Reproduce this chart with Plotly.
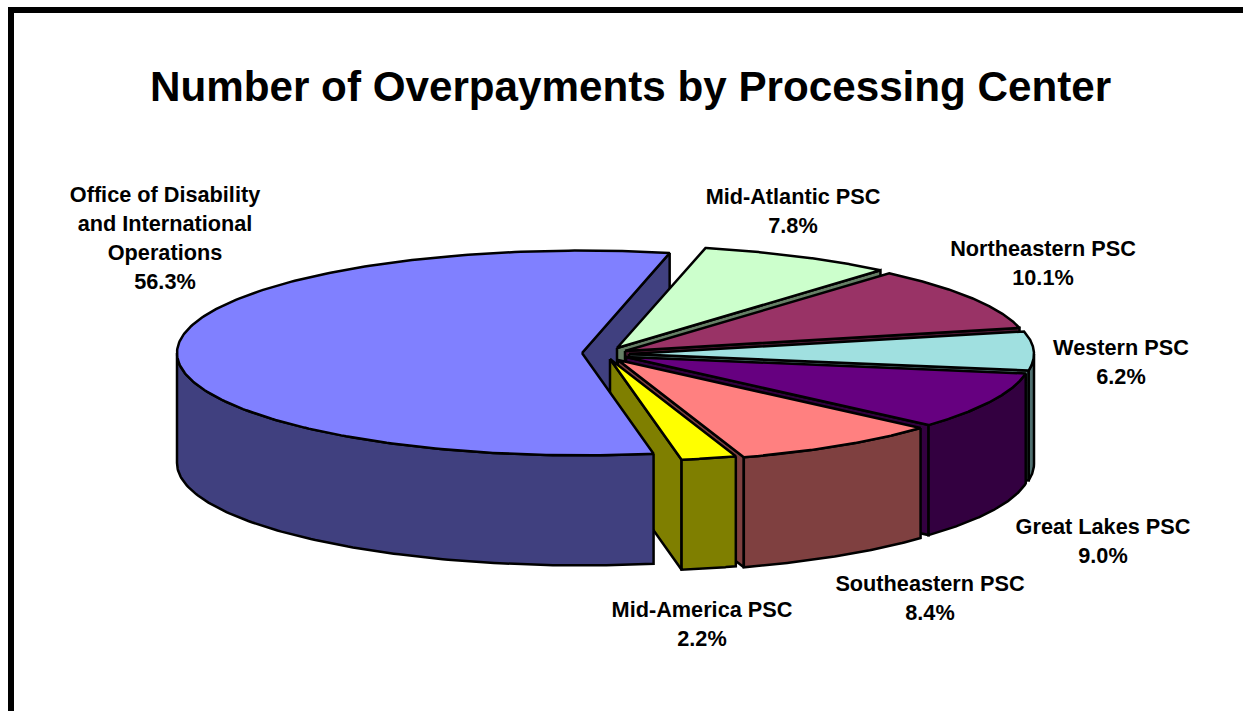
import numpy as np
import plotly.graph_objects as go

# Chart content
title = "Number of Overpayments by Processing Center"
centers = ["Mid-Atlantic PSC", "Northeastern PSC", "Western PSC", "Great Lakes PSC",
           "Southeastern PSC", "Mid-America PSC", "Office of Disability and International Operations"]
label_lines = [["Mid-Atlantic PSC"], ["Northeastern PSC"], ["Western PSC"], ["Great Lakes PSC"],
               ["Southeastern PSC"], ["Mid-America PSC"],
               ["Office of Disability", "and International", "Operations"]]
shares = [7.8, 10.1, 6.2, 9.0, 8.4, 2.2, 56.3]
top_colors = ["#CCFFCC", "#993366", "#A0E0E0", "#660080", "#FF8080", "#FFFF00", "#8080FF"]

# Pie geometry, in page pixels
RX, RY, DEPTH = 405.0, 102.4, 110.0
START_DEG = 12.5
apexes = [(617, 348), (625, 351), (629, 354), (626, 357), (618, 360), (610, 359), (582, 353)]
label_anchor = [(793, 199), (1043, 251), (1121, 350), (1103, 529), (930, 586), (702, 612), (165, 197)]
LINE_STEP = 28.7
FONT = "Liberation Sans, Arial, sans-serif"
EDGE_WIDTH = 2.5


def darker(hex_color):
    r, g, b = (int(hex_color[i:i + 2], 16) for i in (1, 3, 5))
    return f"rgb({r // 2},{g // 2},{b // 2})"


def rim(apex, deg):
    a = np.radians(deg)
    return apex[0] + RX * np.sin(a), apex[1] - RY * np.cos(a)


def face(xs, ys, color):
    return go.Scatter(x=list(xs), y=list(ys), mode="lines", fill="toself", fillcolor=color,
                      line=dict(color="black", width=EDGE_WIDTH), hoverinfo="skip", showlegend=False)


def radial_wall(apex, deg, color):
    x, y = rim(apex, deg)
    return face([apex[0], x, x, apex[0], apex[0]],
                [apex[1], y, y + DEPTH, apex[1] + DEPTH, apex[1]], color)


def outer_wall(apex, a0, a1, color):
    lo, hi = max(a0, 90.0), min(a1, 270.0)
    if lo >= hi:
        return None
    arc = np.linspace(lo, hi, 120)
    x, y = rim(apex, arc)
    return face(np.r_[x, x[::-1], x[0]], np.r_[y, y[::-1] + DEPTH, y[0]], color)


def top_face(apex, a0, a1, color):
    arc = np.linspace(a0, a1, 240)
    x, y = rim(apex, arc)
    return face(np.r_[apex[0], x, apex[0]], np.r_[apex[1], y, apex[1]], color)


# Slice angles, clockwise from twelve o'clock
total = sum(shares)
edges = START_DEG + np.r_[0, np.cumsum(shares)] / total * 360.0

fig = go.Figure()

# The large exploded slice: its inner wall sits behind everything else
big = len(shares) - 1
big_side = darker(top_colors[big])
fig.add_trace(radial_wall(apexes[big], edges[big + 1] % 360, big_side))

# Remaining slices, back to front
for i in range(big):
    side = darker(top_colors[i])
    fig.add_trace(radial_wall(apexes[i], edges[i + 1], side))
    wall = outer_wall(apexes[i], edges[i], edges[i + 1], side)
    if wall is not None:
        fig.add_trace(wall)
    fig.add_trace(top_face(apexes[i], edges[i], edges[i + 1], top_colors[i]))

# Front wall and top of the large slice go last
fig.add_trace(outer_wall(apexes[big], edges[big], edges[big + 1], big_side))
fig.add_trace(top_face(apexes[big], edges[big], edges[big + 1], top_colors[big]))

# Slice labels, one text line per row
tx, ty, tt = [], [], []
for lines, share, (ax, ay) in zip(label_lines, shares, label_anchor):
    rows = lines + [f"{share:.1f}%"]
    for k, row in enumerate(rows):
        tx.append(ax)
        ty.append(ay + k * LINE_STEP)
        tt.append(f"<b>{row}</b>")
fig.add_trace(go.Scatter(x=tx, y=ty, text=tt, mode="text", textposition="middle center",
                         textfont=dict(family=FONT, size=21.7, color="black"),
                         hoverinfo="skip", showlegend=False))

fig.update_layout(
    width=1243, height=711, autosize=False,
    margin=dict(l=0, r=0, t=0, b=0),
    paper_bgcolor="white", plot_bgcolor="white",
    xaxis=dict(range=[0, 1243], visible=False, fixedrange=True),
    yaxis=dict(range=[711, 0], visible=False, fixedrange=True),
    shapes=[
        dict(type="rect", xref="x", yref="y", x0=8, x1=14, y0=7, y1=711,
             fillcolor="black", line_width=0),
        dict(type="rect", xref="x", yref="y", x0=8, x1=1243, y0=7, y1=13,
             fillcolor="black", line_width=0),
    ],
    annotations=[dict(text=f"<b>{title}</b>", x=630, y=86, xref="x", yref="y",
                      showarrow=False, font=dict(family=FONT, size=42.2, color="black"))],
)

fig.write_html("out.html", config=dict(displayModeBar=False))
